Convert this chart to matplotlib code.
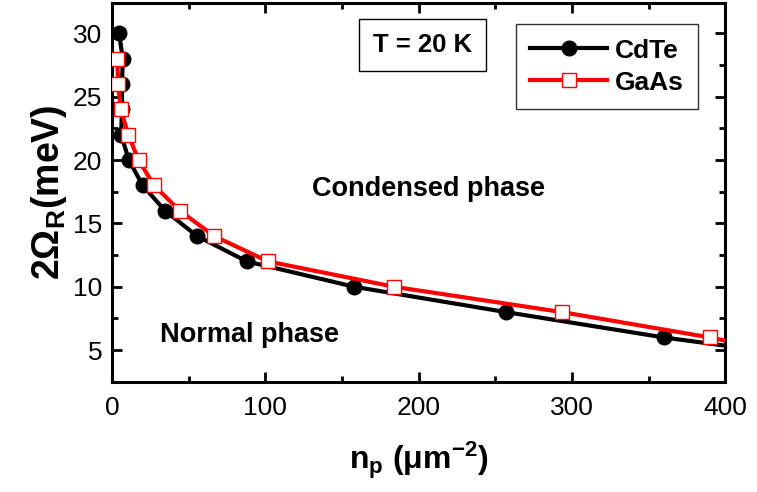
import matplotlib
matplotlib.use("Agg")
import matplotlib.pyplot as plt
from matplotlib.ticker import MultipleLocator

plt.rcParams['font.family'] = ['Liberation Sans', 'DejaVu Sans']
plt.rcParams['mathtext.fontset'] = 'custom'
plt.rcParams['mathtext.rm'] = 'Liberation Sans'
plt.rcParams['mathtext.bf'] = 'Liberation Sans:bold'
plt.rcParams['mathtext.it'] = 'Liberation Sans:italic'

# Critical Rabi splitting vs. polariton density
cdte_n = [4.6, 7.0, 6.5, 6.5, 5.9, 11.0, 20.0, 34.6, 55.5, 88.0, 158.0, 257.0, 360.0, 400.0]
cdte_w = [30, 28, 26, 24, 22, 20, 18, 16, 14, 12, 10, 8, 6, 5.35]
gaas_n = [3.4, 4.0, 5.7, 10.6, 17.3, 27.4, 44.2, 66.6, 101.8, 184.0, 293.6, 390.0, 400.0]
gaas_w = [28, 26, 24, 22, 20, 18, 16, 14, 12, 10, 8, 6, 5.75]

fig = plt.figure(figsize=(7.57, 4.92), dpi=100)
ax = fig.add_axes([0.148, 0.224, 0.810, 0.770])

ax.plot(cdte_n, cdte_w, color='black', lw=3.0, marker='o', ms=10.5,
        mfc='black', mec='black', markevery=list(range(len(cdte_n) - 1)),
        label='CdTe', zorder=3)
ax.plot(gaas_n, gaas_w, color='red', lw=3.0, marker='s', ms=10,
        mfc='white', mec='red', mew=1.0, markevery=list(range(len(gaas_n) - 1)),
        label='GaAs', zorder=4)

ax.set_xlim(0, 400)
ax.set_ylim(2.5, 32.4)
ax.xaxis.set_major_locator(MultipleLocator(100))
ax.xaxis.set_minor_locator(MultipleLocator(50))
ax.yaxis.set_major_locator(MultipleLocator(5))
ax.yaxis.set_minor_locator(MultipleLocator(2.5))
ax.tick_params(which='both', direction='in', top=True, right=True, width=2)
ax.tick_params(which='major', length=7, labelsize=19)
ax.tick_params(axis='x', which='major', pad=10)
ax.tick_params(axis='y', which='major', pad=7)
ax.tick_params(which='minor', length=4)
for s in ax.spines.values():
    s.set_linewidth(2.2)

ax.set_xlabel(r'$\mathbf{n_p}$ $\mathbf{(\mu m^{-2})}$', fontsize=23, labelpad=14)
ax.set_ylabel(r'$\mathbf{2\Omega_R}$$\mathbf{(meV)}$', fontsize=27, labelpad=3)

ax.text(0.516, 0.51, 'Condensed phase', transform=ax.transAxes, fontsize=19.5,
        fontweight='bold', ha='center', va='center')
ax.text(0.078, 0.124, 'Normal phase', transform=ax.transAxes, fontsize=19.5,
        fontweight='bold', ha='left', va='center')
ax.text(0.506, 0.889, 'T = 20 K', transform=ax.transAxes, fontsize=18.5,
        fontweight='bold', ha='center', va='center',
        bbox=dict(boxstyle='square,pad=0.55', fc='white', ec='black', lw=1.0))

leg = ax.legend(loc='upper right', bbox_to_anchor=(0.956, 0.944),
                prop={'weight': 'bold', 'size': 19}, frameon=True, fancybox=False,
                edgecolor='black', handlelength=2.9, handletextpad=0.3,
                borderpad=0.55, labelspacing=0.3, borderaxespad=0.0)
leg.get_frame().set_linewidth(1.0)

fig.savefig('out.png', dpi=100)
